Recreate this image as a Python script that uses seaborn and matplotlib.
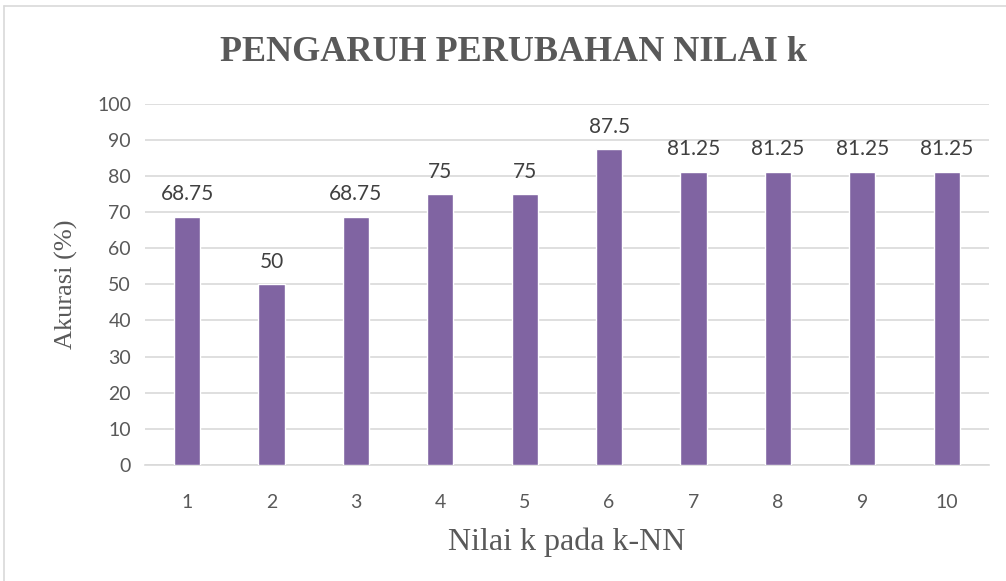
import matplotlib
matplotlib.use("Agg")
import matplotlib.pyplot as plt
import seaborn as sns
import pandas as pd

# data
k_values = ["1", "2", "3", "4", "5", "6", "7", "8", "9", "10"]
akurasi = [68.75, 50, 68.75, 75, 75, 87.5, 81.25, 81.25, 81.25, 81.25]
bar_labels = ["68.75", "50", "68.75", "75", "75", "87.5", "81.25", "81.25", "81.25", "81.25"]

sns.set_theme(style="white")
plt.rcParams['font.family'] = ['Lato', 'DejaVu Sans']

text_col = "#595959"
bar_col = "#8064A2"
grid_col = "#D9D9D9"

df = pd.DataFrame({"k": k_values, "akurasi": akurasi})

fig = plt.figure(figsize=(10.06, 5.81), dpi=100)
ax = fig.add_axes([0.144, 0.2, 0.839, 0.621])

sns.barplot(data=df, x="k", y="akurasi", color=bar_col, width=0.31,
            saturation=1, ax=ax, zorder=3)

ax.bar_label(ax.containers[0], labels=bar_labels, padding=9,
             fontsize=15, color="#404040")

ax.set_ylim(0, 100)
ax.set_xlim(-0.5, 9.5)
ax.set_yticks(range(0, 101, 10))
ax.yaxis.grid(True, color=grid_col, linewidth=1.2, zorder=0)
ax.set_axisbelow(True)
for s in ["top", "right", "left"]:
    ax.spines[s].set_visible(False)
ax.spines["bottom"].set_color(grid_col)
ax.spines["bottom"].set_linewidth(1.2)
ax.tick_params(axis="both", length=0, labelsize=14, labelcolor=text_col)
ax.tick_params(axis="x", pad=21)
ax.tick_params(axis="y", pad=10)

ax.set_xlabel("Nilai k pada k-NN", family="Liberation Serif", fontsize=23,
              color=text_col, labelpad=12)
ax.set_ylabel("Akurasi (%)", family="Liberation Serif", fontsize=19,
              color=text_col, labelpad=14)

fig.text(0.51, 0.91, "PENGARUH PERUBAHAN NILAI k", family="Liberation Serif",
         fontsize=26, fontweight="bold", color=text_col, ha="center", va="center")

# thin frame like the chart area border
fig.add_artist(plt.Line2D([0.004, 0.004], [0, 0.99], color="#D9D9D9", lw=1.2))
fig.add_artist(plt.Line2D([0.004, 1], [0.99, 0.99], color="#D9D9D9", lw=1.2))

fig.savefig("out.png", dpi=100)
